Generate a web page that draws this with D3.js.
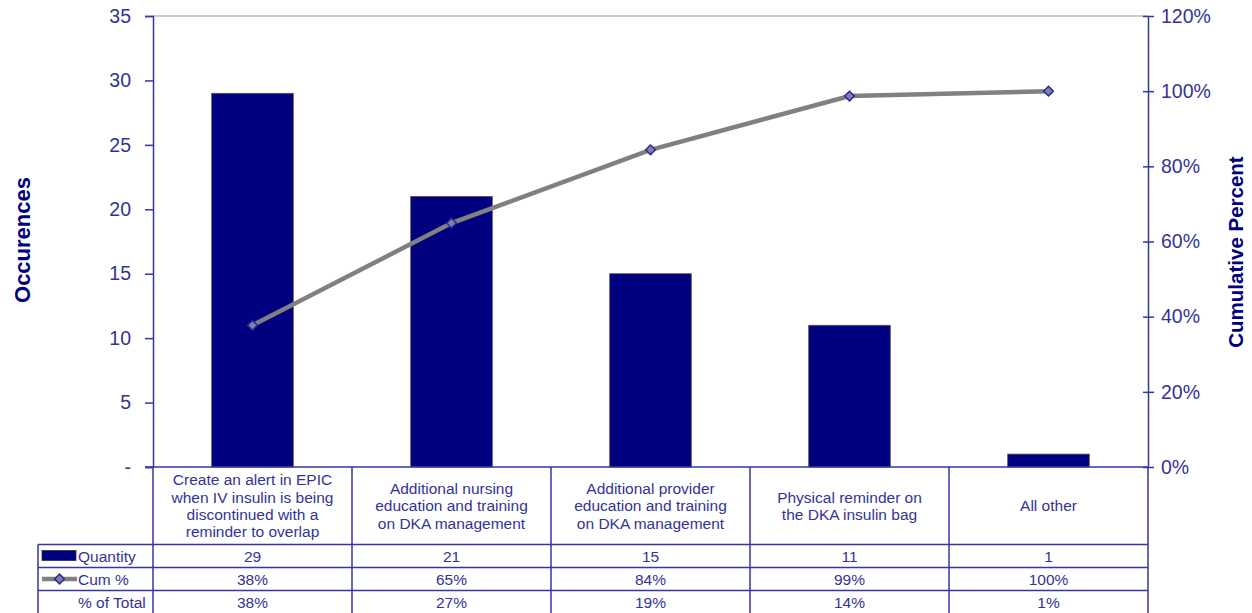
<!DOCTYPE html>
<html>
<head>
<meta charset="utf-8">
<script src="https://cdn.jsdelivr.net/npm/d3@7"></script>
<style>
  body { margin: 0; background: #fff; }
  svg { font-family: "Liberation Sans", Arial, sans-serif; }
</style>
</head>
<body>
<div id="chart"></div>
<script>
// Chart data
var categories = [
    ["Create an alert in EPIC", "when IV insulin is being", "discontinued with a", "reminder to overlap"],
    ["Additional nursing", "education and training", "on DKA management"],
    ["Additional provider", "education and training", "on DKA management"],
    ["Physical reminder on", "the DKA insulin bag"],
    ["All other"]
];
var quantity = [29, 21, 15, 11, 1];
var cumPercent = [0.377, 0.649, 0.844, 0.987, 1.0];
var pctTotal = [0.377, 0.273, 0.194, 0.143, 0.013];
var leftTicks = [0, 5, 10, 15, 20, 25, 30, 35];
var rightTicks = [0, 0.2, 0.4, 0.6, 0.8, 1.0, 1.2];

var svgWidth = 1252;
var svgHeight = 613;

var textColor = "#333399";
var axisColor = "#3535a8";
var navy = "#000080";

var plot = { left: 153, right: 1148, top: 16, bottom: 467 };

var svg = d3.select("#chart")
    .append("svg")
    .attr("width", svgWidth)
    .attr("height", svgHeight);

// Scales
var xScale = d3.scaleBand()
    .domain(d3.range(categories.length))
    .range([plot.left, plot.right])
    .padding(0);

var yLeft = d3.scaleLinear()
    .domain([0, 35])
    .range([plot.bottom, plot.top]);

var yRight = d3.scaleLinear()
    .domain([0, 1.2])
    .range([plot.bottom, plot.top]);

// Top border of plot area
svg.append("line")
    .attr("x1", plot.left).attr("x2", plot.right)
    .attr("y1", plot.top).attr("y2", plot.top)
    .attr("stroke", "#999").attr("stroke-width", 1);

// Bars
var barWidth = xScale.bandwidth() * 0.41;
svg.selectAll("rect.bar")
    .data(quantity)
    .enter()
    .append("rect")
    .attr("class", "bar")
    .attr("x", (d, i) => xScale(i) + (xScale.bandwidth() - barWidth) / 2)
    .attr("y", d => yLeft(d))
    .attr("width", barWidth)
    .attr("height", d => yLeft(0) - yLeft(d))
    .attr("fill", navy)
    .attr("stroke", "#555")
    .attr("stroke-width", 0.8);

// Left axis
var leftAxis = d3.axisLeft(yLeft)
    .tickValues(leftTicks)
    .tickSize(8)
    .tickPadding(14)
    .tickFormat(d => d === 0 ? "-" : d);

var gLeft = svg.append("g")
    .attr("transform", `translate(${plot.left}, 0)`)
    .call(leftAxis);
gLeft.select(".domain").attr("stroke", axisColor).attr("stroke-width", 1.5);
gLeft.selectAll(".tick line").attr("stroke", axisColor).attr("stroke-width", 1.5);
gLeft.selectAll(".tick text")
    .attr("fill", textColor)
    .attr("font-size", 19.5)
    .attr("font-family", "Liberation Sans, Arial, sans-serif");

// Right axis
var rightAxis = d3.axisRight(yRight)
    .tickValues(rightTicks)
    .tickSizeInner(6)
    .tickSizeOuter(0)
    .tickPadding(7)
    .tickFormat(d3.format(".0%"));

var gRight = svg.append("g")
    .attr("transform", `translate(${plot.right}, 0)`)
    .call(rightAxis);
gRight.select(".domain").attr("stroke", axisColor).attr("stroke-width", 1.5);
gRight.selectAll(".tick line")
    .attr("x1", -5)
    .attr("stroke", axisColor).attr("stroke-width", 1.5);
gRight.selectAll(".tick text")
    .attr("fill", textColor)
    .attr("font-size", 19.5)
    .attr("font-family", "Liberation Sans, Arial, sans-serif");

// Bottom axis line
svg.append("line")
    .attr("x1", plot.left - 8).attr("x2", plot.right)
    .attr("y1", plot.bottom).attr("y2", plot.bottom)
    .attr("stroke", axisColor).attr("stroke-width", 1.5);

// Cumulative line
var line = d3.line()
    .x((d, i) => xScale(i) + xScale.bandwidth() / 2)
    .y(d => yRight(d));

svg.append("path")
    .datum(cumPercent)
    .attr("d", line)
    .attr("fill", "none")
    .attr("stroke", "#808080")
    .attr("stroke-width", 4.5);

var diamond = d3.symbol().type(d3.symbolDiamond2).size(60);
svg.selectAll("path.marker")
    .data(cumPercent)
    .enter()
    .append("path")
    .attr("class", "marker")
    .attr("d", diamond)
    .attr("transform", (d, i) => `translate(${xScale(i) + xScale.bandwidth() / 2}, ${yRight(d)})`)
    .attr("fill", "#7f7fa8")
    .attr("stroke", "#2a2a90")
    .attr("stroke-width", 1.5);

// Axis titles
svg.append("text")
    .attr("transform", "translate(30, 240) rotate(-90)")
    .attr("text-anchor", "middle")
    .attr("fill", navy)
    .attr("font-size", 22)
    .attr("font-weight", "bold")
    .text("Occurences");

svg.append("text")
    .attr("transform", "translate(1243, 252) rotate(-90)")
    .attr("text-anchor", "middle")
    .attr("fill", navy)
    .attr("font-size", 20.5)
    .attr("font-weight", "bold")
    .text("Cumulative Percent");

// Data table
var rowTop = 544.5;
var rowH = 23;
var tableLeft = 38;
var gridColor = "#3535a8";
var tableFont = 15.5;

// category label row
var catTexts = svg.selectAll("text.cat")
    .data(categories)
    .enter()
    .append("text")
    .attr("class", "cat")
    .attr("text-anchor", "middle")
    .attr("fill", textColor)
    .attr("font-size", tableFont);

catTexts.each(function (lines, i) {
    var cx = xScale(i) + xScale.bandwidth() / 2;
    var cy = (plot.bottom + rowTop) / 2;
    var lh = 17.3;
    var y0 = cy - (lines.length - 1) * lh / 2 + 5.5;
    d3.select(this).selectAll("tspan")
        .data(lines)
        .enter()
        .append("tspan")
        .attr("x", cx)
        .attr("y", (d, j) => y0 + j * lh)
        .text(d => d);
});

// vertical cell lines in label row and table rows
var bounds = d3.range(categories.length + 1).map(i => i < categories.length ? xScale(i) : plot.right);
svg.selectAll("line.vgrid")
    .data(bounds)
    .enter()
    .append("line")
    .attr("class", "vgrid")
    .attr("x1", d => d).attr("x2", d => d)
    .attr("y1", plot.bottom).attr("y2", svgHeight)
    .attr("stroke", gridColor).attr("stroke-width", 1.5);

// horizontal lines
[rowTop, rowTop + rowH, rowTop + 2 * rowH].forEach(function (y) {
    svg.append("line")
        .attr("x1", tableLeft).attr("x2", plot.right)
        .attr("y1", y).attr("y2", y)
        .attr("stroke", gridColor).attr("stroke-width", 1.5);
});
svg.append("line")
    .attr("x1", tableLeft).attr("x2", tableLeft)
    .attr("y1", rowTop).attr("y2", svgHeight)
    .attr("stroke", gridColor).attr("stroke-width", 1.5);

var rows = [
    { label: "Quantity", values: quantity.map(d => d) },
    { label: "Cum %", values: cumPercent.map(d => d3.format(".0%")(d)) },
    { label: "% of Total", values: pctTotal.map(d => d3.format(".0%")(d)) }
];

rows.forEach(function (row, r) {
    var cy = rowTop + r * rowH + rowH / 2 + 5.5;
    svg.append("text")
        .attr("x", 78)
        .attr("y", cy)
        .attr("fill", textColor)
        .attr("font-size", tableFont)
        .text(row.label);
    svg.selectAll(null)
        .data(row.values)
        .enter()
        .append("text")
        .attr("x", (d, i) => xScale(i) + xScale.bandwidth() / 2)
        .attr("y", cy)
        .attr("text-anchor", "middle")
        .attr("fill", textColor)
        .attr("font-size", tableFont)
        .text(d => d);
});

// legend keys in table
svg.append("rect")
    .attr("x", 42).attr("y", rowTop + 6)
    .attr("width", 34).attr("height", 10)
    .attr("fill", navy)
    .attr("stroke", "#333").attr("stroke-width", 0.8);

var keyY = rowTop + rowH + rowH / 2;
svg.append("line")
    .attr("x1", 42).attr("x2", 77)
    .attr("y1", keyY).attr("y2", keyY)
    .attr("stroke", "#808080").attr("stroke-width", 4.5);
svg.append("path")
    .attr("d", diamond)
    .attr("transform", `translate(59.5, ${keyY})`)
    .attr("fill", "#7f7fa8")
    .attr("stroke", "#2a2a90")
    .attr("stroke-width", 1.5);
</script>
</body>
</html>
